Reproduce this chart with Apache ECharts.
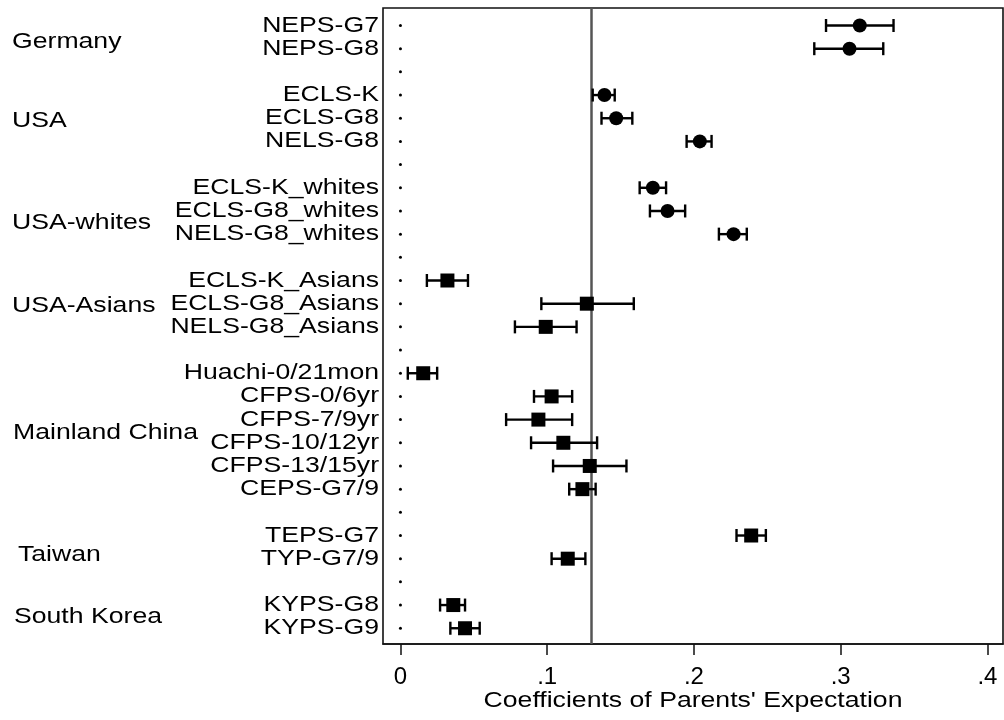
<!DOCTYPE html>
<html>
<head>
<meta charset="utf-8">
<script src="https://cdn.jsdelivr.net/npm/echarts@6/dist/echarts.min.js"></script>
<style>
html,body{margin:0;padding:0;background:#fff;}
#chart{width:1004px;height:720px;}
</style>
</head>
<body>
<div id="chart"></div>
<script>
// ---- data ----
const rowLabels = ['NEPS-G7','NEPS-G8','','ECLS-K','ECLS-G8','NELS-G8','',
  'ECLS-K_whites','ECLS-G8_whites','NELS-G8_whites','',
  'ECLS-K_Asians','ECLS-G8_Asians','NELS-G8_Asians','',
  'Huachi-0/21mon','CFPS-0/6yr','CFPS-7/9yr','CFPS-10/12yr','CFPS-13/15yr','CEPS-G7/9','',
  'TEPS-G7','TYP-G7/9','','KYPS-G8','KYPS-G9'];
const estimates = [0.313,0.306,null,0.139,0.147,0.204,null,
  0.172,0.182,0.227,null,
  0.032,0.127,0.099,null,
  0.0155,0.103,0.094,0.111,0.129,0.124,null,
  0.239,0.114,null,0.036,0.044];
const lowerCI = [0.290,0.282,null,0.131,0.137,0.195,null,
  0.163,0.170,0.217,null,
  0.018,0.096,0.078,null,
  0.005,0.091,0.072,0.089,0.104,0.115,null,
  0.229,0.103,null,0.027,0.034];
const upperCI = [0.336,0.329,null,0.146,0.158,0.212,null,
  0.181,0.194,0.236,null,
  0.046,0.159,0.120,null,
  0.025,0.117,0.117,0.134,0.154,0.133,null,
  0.249,0.126,null,0.044,0.054];
// rows before this index use circle markers, the rest squares
const circleRowsEnd = 10;
const groupNames = ['Germany','USA','USA-whites','USA-Asians','Mainland China','Taiwan','South Korea'];
const groupRowPos = [0.65, 4.07, 8.48, 12.06, 17.54, 22.79, 25.47];
const groupLeft = [12, 12, 12, 12, 13, 18, 14];
const referenceValue = 0.129;
const xTickValues = [0, 0.1, 0.2, 0.3, 0.4];
const xTickLabels = ['0', '.1', '.2', '.3', '.4'];
const xTitle = "Coefficients of Parents' Expectation";

// ---- build ----
const FONT = '"Liberation Sans", Arial, Helvetica, sans-serif';
const FS = 22;
const STRETCH = 1.21; // text in the reference is horizontally wide
const circleData = [], squareData = [], errData = [], dotData = [];
rowLabels.forEach((lab, i) => {
  dotData.push([0, i]);
  if (estimates[i] == null) return;
  if (i < circleRowsEnd) circleData.push([estimates[i], i]);
  else squareData.push([estimates[i], i]);
  errData.push([lowerCI[i], i, upperCI[i]]);
});

const chart = echarts.init(document.getElementById('chart'), null, {renderer: 'canvas'});
const option = {
  animation: false,
  backgroundColor: '#fff',
  grid: {left: 383, right: 1, top: 8, bottom: 76, show: true,
    borderColor: '#111', borderWidth: 1.6, backgroundColor: 'transparent'},
  xAxis: {
    type: 'value', min: -0.0119, max: 0.4106,
    axisLine: {show: true, onZero: false, lineStyle: {color: '#111', width: 1.6}},
    splitLine: {show: false},
    axisTick: {show: true, length: 11, inside: false, customValues: xTickValues,
      lineStyle: {color: '#111', width: 1.5}},
    axisLabel: {customValues: xTickValues, margin: 21, fontFamily: FONT, fontSize: 24, color: '#000',
      formatter: v => xTickLabels[xTickValues.findIndex(t => Math.abs(t - v) < 1e-9)]}
  },
  yAxis: {
    type: 'value', inverse: true, min: -0.755, max: 26.68,
    axisLine: {show: false},
    splitLine: {show: false},
    axisTick: {show: false},
    axisLabel: {show: false}
  },
  series: [
    {
      type: 'scatter', data: dotData, symbol: 'circle', symbolSize: 3,
      itemStyle: {color: '#000', opacity: 1}, z: 2,
      markLine: {
        silent: true, symbol: 'none', label: {show: false},
        lineStyle: {color: '#555', width: 2.5, type: 'solid', opacity: 1},
        data: [{xAxis: referenceValue}], z: 1
      }
    },
    {
      type: 'custom', data: errData, z: 3,
      encode: {x: [0, 2], y: 1},
      renderItem: function (params, api) {
        const y = api.value(1);
        const p1 = api.coord([api.value(0), y]);
        const p2 = api.coord([api.value(2), y]);
        const h = 6.5;
        const st = {stroke: '#000', lineWidth: 2.4};
        return {type: 'group', children: [
          {type: 'line', shape: {x1: p1[0], y1: p1[1], x2: p2[0], y2: p2[1]}, style: st},
          {type: 'line', shape: {x1: p1[0], y1: p1[1] - h, x2: p1[0], y2: p1[1] + h}, style: st},
          {type: 'line', shape: {x1: p2[0], y1: p2[1] - h, x2: p2[0], y2: p2[1] + h}, style: st}
        ]};
      }
    },
    {type: 'scatter', data: circleData, symbol: 'circle', symbolSize: 14,
      itemStyle: {color: '#000', opacity: 1}, z: 4},
    {type: 'scatter', data: squareData, symbol: 'rect', symbolSize: 14,
      itemStyle: {color: '#000', opacity: 1}, z: 4}
  ]
};
chart.setOption(option);

// texts placed through the axes' scales
const yPx = v => chart.convertToPixel({yAxisIndex: 0}, v);
const xPx = v => chart.convertToPixel({xAxisIndex: 0}, v);
const plotLeft = xPx(-0.0119), plotRight = xPx(0.4106), plotBottom = yPx(26.68);
const textStyle = (t, align) => ({text: t, fontFamily: FONT, fontSize: FS, fill: '#000',
  align: align, verticalAlign: 'middle'});
const graphics = [];
rowLabels.forEach((lab, i) => {
  if (!lab) return;
  graphics.push({type: 'text', x: plotLeft - 4, y: yPx(i), scaleX: STRETCH,
    style: textStyle(lab, 'right')});
});
groupNames.forEach((name, k) => {
  graphics.push({type: 'text', x: groupLeft[k], y: yPx(groupRowPos[k]) + 1, scaleX: STRETCH,
    style: textStyle(name, 'left')});
});
graphics.push({type: 'text', x: (plotLeft + plotRight) / 2, y: plotBottom + 57, scaleX: STRETCH,
  style: textStyle(xTitle, 'center')});
chart.setOption({graphic: graphics});
</script>
</body>
</html>
